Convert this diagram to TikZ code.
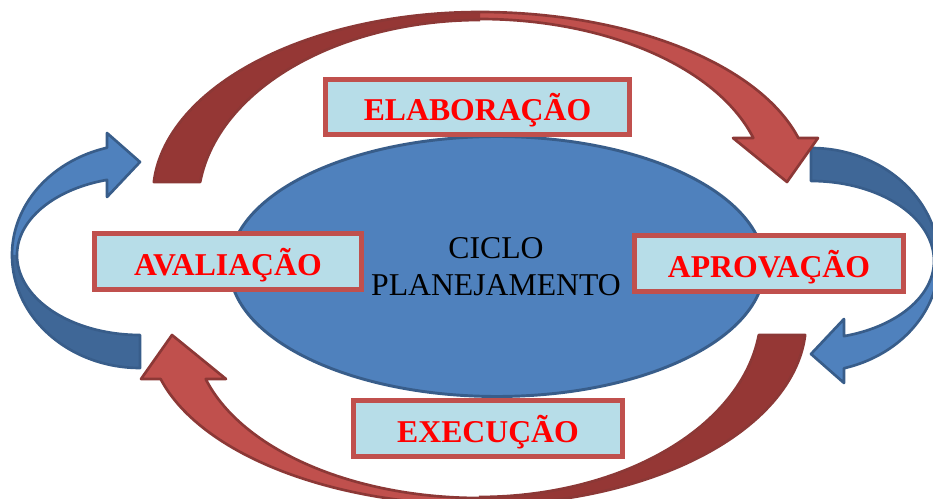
\documentclass[tikz,border=0pt]{standalone}
\usepackage{fontspec}
\setmainfont{Liberation Serif}
\newfontfamily\labelserif{Liberation Serif}
\usetikzlibrary{shapes.geometric}
\definecolor{redfront}{HTML}{C0504D}
\definecolor{redback}{HTML}{953735}
\definecolor{redline}{HTML}{8C3836}
\definecolor{bluefront}{HTML}{4F81BD}
\definecolor{blueback}{HTML}{3F6797}
\definecolor{blueline}{HTML}{385D8A}
\definecolor{boxfill}{HTML}{B7DDE8}
\definecolor{boxline}{HTML}{C0504D}
\definecolor{labelred}{HTML}{FF0000}

\newcommand{\drawRedArrow}{%
  \fill[redfront] plot[domain=270:344.74] ({480+330*cos(\x)},{183+171*sin(\x)}) -- (818,138) -- (787,182) -- (733,138) -- plot[domain=343.55:270] ({480+285*cos(\x)},{185+166*sin(\x)}) -- cycle;
  \draw[outl, draw=redline] plot[domain=270:344.74] ({480+330*cos(\x)},{183+171*sin(\x)}) -- (818,138) -- (787,182) -- (733,138) -- plot[domain=343.55:270] ({480+285*cos(\x)},{185+166*sin(\x)});
  \fill[redback] plot[domain=184.07:270] ({480+327*cos(\x)},{195+183*sin(\x)}) -- plot[domain=270:187.14] ({480+282*cos(\x)},{205+185*sin(\x)}) -- cycle;
  \draw[outl, draw=redline] plot[domain=270:184.07] ({480+327*cos(\x)},{195+183*sin(\x)}) -- plot[domain=187.14:270] ({480+282*cos(\x)},{205+185*sin(\x)});
}
\newcommand{\drawBlueArrow}{%
  \fill[bluefront] plot[domain=180:255.06] ({140+128*cos(\x)},{255+111*sin(\x)}) -- (107,133) -- (140,162) -- (107,197) -- plot[domain=254.45:180] ({140+123*cos(\x)},{255+78*sin(\x)}) -- cycle;
  \draw[outl, draw=blueline] plot[domain=180:255.06] ({140+128*cos(\x)},{255+111*sin(\x)}) -- (107,133) -- (140,162) -- (107,197) -- plot[domain=254.45:180] ({140+123*cos(\x)},{255+78*sin(\x)});
  \fill[blueback] plot[domain=90:180] ({140+128*cos(\x)},{255+113*sin(\x)}) -- plot[domain=180:90] ({140+123*cos(\x)},{255+80*sin(\x)}) -- cycle;
  \draw[outl, draw=blueline] plot[domain=180:90] ({140+128*cos(\x)},{255+113*sin(\x)}) -- plot[domain=90:180] ({140+123*cos(\x)},{255+80*sin(\x)});
}

\begin{document}
\begin{tikzpicture}[x=0.75pt,y=-0.75pt,
  outl/.style={line width=2pt, line join=round},
  every plot/.style={samples=60},
  lbl/.style={draw=boxline, fill=boxfill, line width=4pt, inner sep=0pt,
    text height=21pt, text depth=0pt,
    font=\labelserif\fontsize{23.8}{28}\selectfont\bfseries, text=labelred},
  ctext/.style={anchor=base, inner sep=0pt, font=\labelserif\fontsize{23.8}{28}\selectfont, text=black}]
\useasboundingbox (0,0) rectangle (933,499);
\clip (0,0) rectangle (933,499);

% central ellipse
\node[ellipse, draw=blueline, fill=bluefront, line width=2.2pt, inner sep=0pt,
  minimum width=401pt, minimum height=195pt] (ciclo) at (497,266.5) {};
\node[ctext] (t1) at (496,259) {CICLO};
\node[ctext] (t2) at (496,296) {PLANEJAMENTO};

% blue arrows
\drawBlueArrow
\begin{scope}[rotate around={180:(475.5,258)}]
  \drawBlueArrow
\end{scope}

% red arrows
\drawRedArrow
\begin{scope}[rotate around={180:(479.5,258.5)}]
  \drawRedArrow
\end{scope}

% labels
\node[lbl, minimum width=228pt, minimum height=41pt] (elab) at (477.5,107) {ELABORAÇÃO};
\node[lbl, minimum width=200pt, minimum height=42pt] (aval) at (228,261.5) {AVALIAÇÃO};
\node[lbl, minimum width=201.5pt, minimum height=42pt] (aprov) at (769,263.5) {APROVAÇÃO};
\node[lbl, minimum width=201.5pt, minimum height=42pt] (exec) at (488,428.5) {EXECUÇÃO};
\end{tikzpicture}
\end{document}
